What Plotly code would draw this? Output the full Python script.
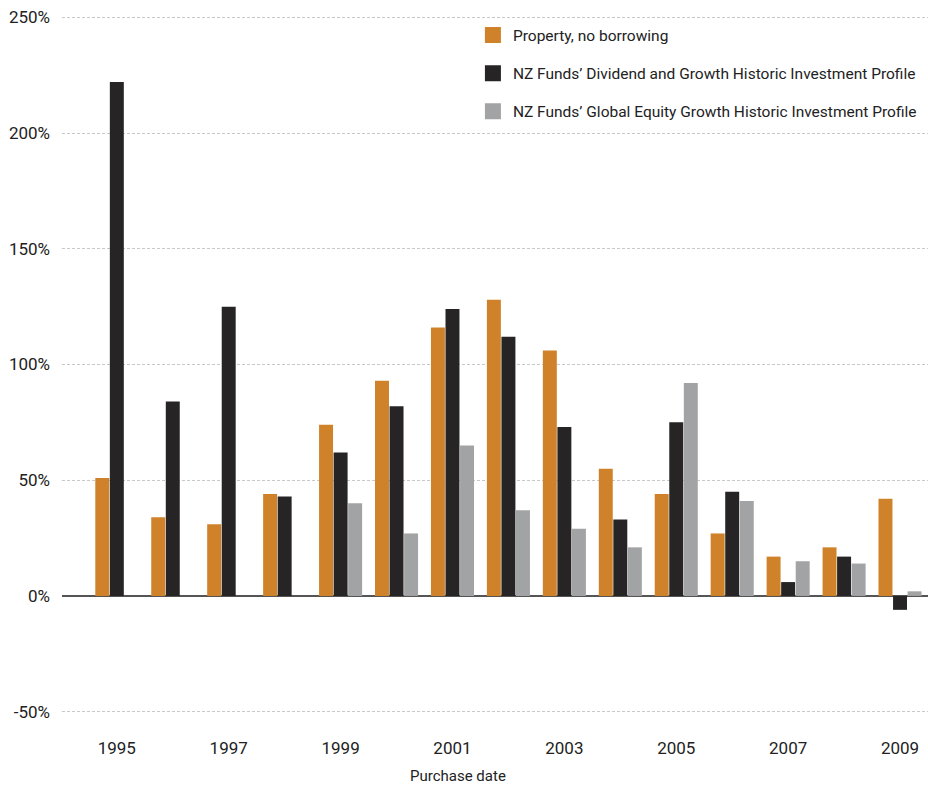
import plotly.graph_objects as go

years = [1995, 1996, 1997, 1998, 1999, 2000, 2001, 2002, 2003, 2004, 2005, 2006, 2007, 2008, 2009]
property_no_borrowing = [51, 34, 31, 44, 74, 93, 116, 128, 106, 55, 44, 27, 17, 21, 42]
dividend_growth = [222, 84, 125, 43, 62, 82, 124, 112, 73, 33, 75, 45, 6, 17, -6]
global_equity = [None, None, None, None, 40, 27, 65, 37, 29, 21, 92, 41, 15, 14, 2]

series_names = [
    "Property, no borrowing",
    "NZ Funds\u2019 Dividend and Growth Historic Investment Profile",
    "NZ Funds\u2019 Global Equity Growth Historic Investment Profile",
]
series_values = [property_no_borrowing, dividend_growth, global_equity]
colors = ["#CF8229", "#262425", "#A2A3A5"]

x_tick_vals = [1995, 1997, 1999, 2001, 2003, 2005, 2007, 2009]
x_tick_text = [str(v) for v in x_tick_vals]
y_tick_vals = [-50, 0, 50, 100, 150, 200, 250]
y_tick_text = [f"{v}%" for v in y_tick_vals]
x_title = "Purchase date"

FONT = "Roboto"
fig = go.Figure()
for name, vals, col in zip(series_names, series_values, colors):
    fig.add_trace(go.Bar(x=years, y=vals, name=name, marker=dict(color=col, line=dict(width=0)),
                         showlegend=False))
for i, (name, col) in enumerate(zip(series_names, colors)):
    fig.add_trace(go.Scatter(x=[None], y=[None], mode="markers", name=name,
                             legendgroup=f"g{i}",
                             marker=dict(symbol="square", size=20, color=col)))

fig.update_layout(
    width=928, height=787,
    margin=dict(l=62, r=0, t=15, b=73),
    paper_bgcolor="white", plot_bgcolor="white",
    barmode="group", bargap=0.22, bargroupgap=0.04,
    font=dict(family=FONT, size=17, color="#222222"),
    showlegend=True,
    legend=dict(x=0.4745, y=0.995, xanchor="left", yanchor="top",
                font=dict(family=FONT, size=15.5, color="#222222"),
                tracegroupgap=15, bgcolor="rgba(0,0,0,0)"),
)
fig.update_xaxes(range=[1994.02, 2009.5], tickmode="array", tickvals=x_tick_vals, ticktext=x_tick_text,
                 showgrid=False, zeroline=False, showline=False, ticks="", ticklabelstandoff=22,
                 tickfont=dict(size=17))
fig.update_yaxes(range=[-51, 251], tickmode="array", tickvals=y_tick_vals, ticktext=y_tick_text,
                 showgrid=True, gridcolor="#C8C8C8", griddash="3px,2px", gridwidth=1,
                 zeroline=True, zerolinecolor="#555555", zerolinewidth=2,
                 showline=False, ticks="", ticklabelstandoff=11, tickfont=dict(size=17))
fig.add_annotation(text=x_title, xref="paper", yref="paper", x=0.457, y=0, yshift=-62,
                   showarrow=False, xanchor="center", yanchor="middle",
                   font=dict(family=FONT, size=15, color="#222222"))
fig.write_html("out.html")
